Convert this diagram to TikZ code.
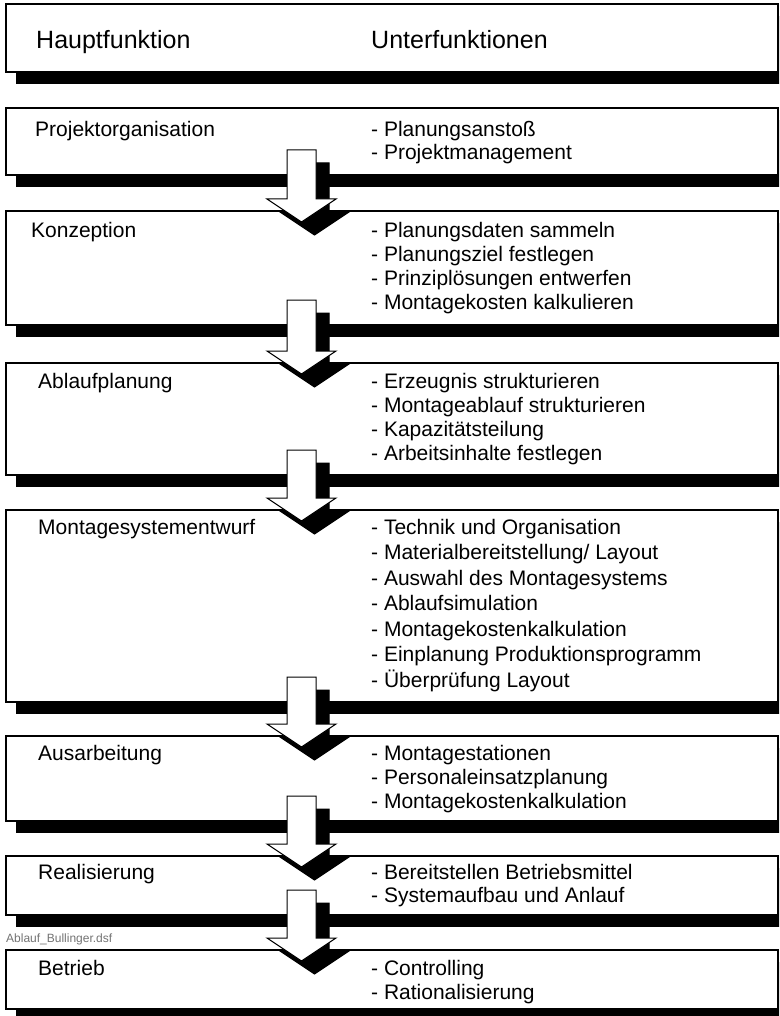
\documentclass[tikz,border=0pt]{standalone}
\usepackage{fontspec}
\setmainfont{Liberation Sans}
\usetikzlibrary{calc,shadows}

% downward arrow between two stages: #1 upper stage, #2 lower stage,
% #3/#4 offset (used for the shadow copy), #5 style
\newcommand\flowarrow[5]{%
  \draw[#5]
    ($(sl |- #1.south)+(#3,#4-25)$) --
    ($(sr |- #1.south)+(#3,#4-25)$) --
    ($(sr |- #2.north)+(#3,#4-12)$) --
    ($(wr |- #2.north)+(#3,#4-12)$) --
    ($(tx |- #2.north)+(#3,#4+11)$) --
    ($(wl |- #2.north)+(#3,#4-12)$) --
    ($(sl |- #2.north)+(#3,#4-12)$) -- cycle;}

\begin{document}
\begin{tikzpicture}[x=1pt,y=-1pt,
  stage/.style={draw=black, line width=1.1pt, fill=white, rectangle,
    inner sep=0pt, outer sep=0pt, anchor=north west, minimum width=772pt,
    drop shadow={shadow xshift=10pt, shadow yshift=-12pt, fill=black, opacity=1}},
  main/.style={anchor=base west, inner sep=0pt, font=\fontsize{21}{25}\selectfont},
  head/.style={anchor=base west, inner sep=0pt, font=\fontsize{25}{30}\selectfont},
  flowhead/.style={draw=black, line width=1pt, fill=white, line join=miter},
  flowshade/.style={draw=black, line width=1pt, fill=black, line join=miter},
  filetag/.style={anchor=base west, inner sep=0pt, font=\fontsize{12}{14}\selectfont, text=black!55}
]
\useasboundingbox (0,0) rectangle (779,1016);
\clip (0,0) rectangle (779,1016);

% columns of the arrows
\coordinate (wl) at (267,0);
\coordinate (sl) at (287,0);
\coordinate (tx) at (301.5,0);
\coordinate (sr) at (316,0);
\coordinate (wr) at (336,0);

% stages
\node[stage, minimum height=68pt]  (hdr) at (6,4)   {};
\node[stage, minimum height=67pt]  (s1)  at (6,108) {};
\node[stage, minimum height=114pt] (s2)  at (6,211) {};
\node[stage, minimum height=112pt] (s3)  at (6,363) {};
\node[stage, minimum height=192pt] (s4)  at (6,510) {};
\node[stage, minimum height=85pt]  (s5)  at (6,736) {};
\node[stage, minimum height=59pt]  (s6)  at (6,856) {};
\node[stage, minimum height=59pt]  (s7)  at (6,950) {};

% header
\node[head] (hmain) at (36,49)  {Hauptfunktion};
\node[head] (hsub)  at (371,49) {Unterfunktionen};

% main functions
\node[main] (m1) at (35,137) {Projektorganisation};
\node[main] (m2) at (31,237) {Konzeption};
\node[main] (m3) at (38,388) {Ablaufplanung};
\node[main] (m4) at (38,534) {Montagesystementwurf};
\node[main] (m5) at (38,760) {Ausarbeitung};
\node[main] (m6) at (38,879) {Realisierung};
\node[main] (m7) at (38,975) {Betrieb};

% sub functions
\foreach \t [count=\i from 0] in {- Planungsanstoß, - Projektmanagement}
  \node[main] (u1-\i) at (371,137+\i*23) {\t};
\foreach \t [count=\i from 0] in {- Planungsdaten sammeln, - Planungsziel festlegen,
    - Prinziplösungen entwerfen, - Montagekosten kalkulieren}
  \node[main] (u2-\i) at (371,237+\i*24) {\t};
\foreach \t [count=\i from 0] in {- Erzeugnis strukturieren, - Montageablauf strukturieren,
    - Kapazitätsteilung, - Arbeitsinhalte festlegen}
  \node[main] (u3-\i) at (371,388+\i*24) {\t};
\foreach \t [count=\i from 0] in {- Technik und Organisation, - Materialbereitstellung/ Layout,
    - Auswahl des Montagesystems, - Ablaufsimulation, - Montagekostenkalkulation,
    - Einplanung Produktionsprogramm, - Überprüfung Layout}
  \node[main] (u4-\i) at (371,534+\i*25.5) {\t};
\foreach \t [count=\i from 0] in {- Montagestationen, - Personaleinsatzplanung,
    - Montagekostenkalkulation}
  \node[main] (u5-\i) at (371,760+\i*24) {\t};
\foreach \t [count=\i from 0] in {- Bereitstellen Betriebsmittel, - Systemaufbau und Anlauf}
  \node[main] (u6-\i) at (371,879+\i*23.5) {\t};
\foreach \t [count=\i from 0] in {- Controlling, - Rationalisierung}
  \node[main] (u7-\i) at (371,975+\i*24) {\t};

\node[filetag] (tag) at (6,942) {Ablauf\_Bullinger.dsf};

% arrows between the stages, shadow first
\foreach \a/\b in {s1/s2, s2/s3, s3/s4, s4/s5, s5/s6, s6/s7}{
  \flowarrow{\a}{\b}{13}{13}{flowshade}
  \flowarrow{\a}{\b}{0}{0}{flowhead}
}
\end{tikzpicture}
\end{document}
